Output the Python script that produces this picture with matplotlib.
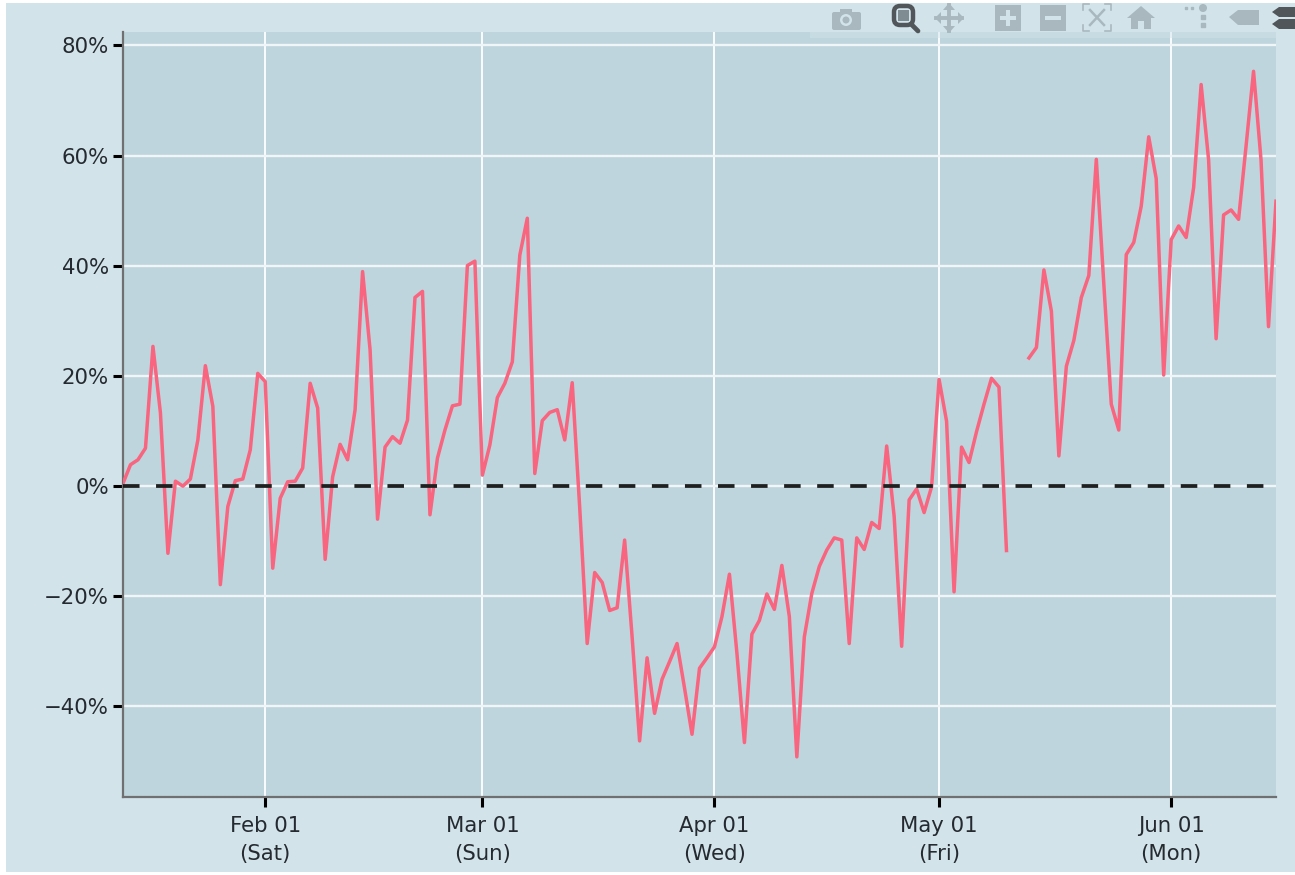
import matplotlib
matplotlib.use('Agg')
import matplotlib.pyplot as plt
import matplotlib.patches as patches
import numpy as np
import pandas as pd

# daily values in percent, starting Jan 13 2020, nan = gap in the data
values = [
    0.4, 3.8, 4.7, 6.8, 25.3, 13.2, -12.3, 0.8, -0.1, 1.2,
    8.3, 21.8, 14.4, -18.0, -3.8, 0.9, 1.2, 6.5, 20.4, 18.9,
    -15.0, -2.3, 0.7, 0.8, 3.2, 18.6, 14.1, -13.4, 1.6, 7.5,
    4.7, 13.8, 38.9, 24.7, -6.1, 7.0, 8.9, 7.7, 11.9, 34.2,
    35.3, -5.3, 5.0, 10.1, 14.5, 14.8, 40.0, 40.8, 1.9, 7.4,
    16.0, 18.6, 22.5, 41.9, 48.6, 2.2, 11.8, 13.3, 13.8, 8.3,
    18.7, -4.0, -28.7, -15.8, -17.6, -22.7, -22.2, -9.9, -27.5, -46.4,
    -31.3, -41.4, -35.2, -32.0, -28.7, -36.8, -45.2, -33.2, -31.3, -29.3,
    -23.8, -16.1, -30.5, -46.7, -27.0, -24.5, -19.7, -22.5, -14.5, -23.8,
    -49.3, -27.5, -19.6, -14.7, -11.7, -9.5, -9.9, -28.7, -9.5, -11.6,
    -6.7, -7.8, 7.2, -5.6, -29.2, -2.6, -0.6, -4.9, -0.2, 19.3,
    11.7, -19.3, 7.0, 4.2, 9.8, 14.8, 19.5, 17.9, -11.8, np.nan,
    np.nan, 23.2, 25.1, 39.2, 31.7, 5.4, 21.7, 26.4, 34.2, 38.2,
    59.3, 36.7, 14.8, 10.1, 42.0, 44.2, 50.8, 63.4, 55.8, 20.1,
    44.7, 47.2, 45.1, 54.2, 72.9, 59.2, 26.7, 49.2, 50.1, 48.4,
    61.7, 75.3, 59.2, 28.9, 51.7,
]
start_date = '2020-01-13'

x_tick_dates = ['2020-02-01', '2020-03-01', '2020-04-01', '2020-05-01', '2020-06-01']
x_tick_labels = ['Feb 01\n(Sat)', 'Mar 01\n(Sun)', 'Apr 01\n(Wed)', 'May 01\n(Fri)', 'Jun 01\n(Mon)']
y_ticks = [-40, -20, 0, 20, 40, 60, 80]
y_tick_labels = ['\u221240%', '\u221220%', '0%', '20%', '40%', '60%', '80%']

W, H = 1295, 875
page_bg = '#d2e3ea'
plot_bg = '#bed5dd'
line_color = '#f9647f'
text_color = '#252a30'
icon_grey = '#a8b8be'
icon_dark = '#50565a'

plt.rcParams['lines.scale_dashes'] = False
plt.rcParams['font.family'] = 'DejaVu Sans'

fig = plt.figure(figsize=(W / 100, H / 100), dpi=100, facecolor='white')

# page background sits inside a thin white margin
fig.patches.append(patches.Rectangle((6 / W, 0.004), 1, 0.993, transform=fig.transFigure,
                                     facecolor=page_bg, edgecolor='none', zorder=-5))

ax = fig.add_axes([123 / W, 1 - 797 / H, (1276 - 123) / W, (797 - 32) / H])
ax.set_facecolor(plot_bg)

dates = pd.date_range(start_date, periods=len(values), freq='D')
ax.plot(dates, values, color=line_color, lw=2.5, zorder=3)
ax.axhline(0, color='#1f1f1f', lw=2.7, dashes=(11.9, 11.9), dash_capstyle='butt', zorder=4)

ax.set_xlim(pd.Timestamp('2020-01-13'), pd.Timestamp('2020-06-15'))
ax.set_ylim(-56.6, 82.45)

ax.set_xticks(pd.to_datetime(x_tick_dates))
ax.set_xticklabels(x_tick_labels, fontsize=15.3, color=text_color, linespacing=1.5)
ax.set_yticks(y_ticks)
ax.set_yticklabels(y_tick_labels, fontsize=15.3, color=text_color)
ax.tick_params(axis='x', length=7, width=2.2, color='black', pad=7)
ax.tick_params(axis='y', length=7, width=2.2, color='black', pad=3)
ax.grid(True, axis='x', color='white', lw=1.3, zorder=1)
ax.grid(True, axis='y', color='#f0f6f8', lw=1.7, zorder=1)
ax.set_axisbelow(True)

ax.spines['top'].set_visible(False)
ax.spines['right'].set_visible(False)
ax.spines['left'].set_color('#707070')
ax.spines['bottom'].set_color('#707070')
ax.spines['left'].set_linewidth(1.6)
ax.spines['bottom'].set_linewidth(1.6)

# toolbar overlay, in pixel coordinates of the picture
bar = fig.add_axes([0, 0, 1, 1])
bar.set_xlim(0, W)
bar.set_ylim(H, 0)
bar.axis('off')
bar.patch.set_alpha(0)

bar.add_patch(patches.Rectangle((810, 30), 466, 8, fc=page_bg, ec='none', alpha=0.45))


def box(x0, y0, x1, y1, color=icon_grey):
    bar.add_patch(patches.Rectangle((x0, y0), x1 - x0, y1 - y0, fc=color, ec='none'))


# camera
bar.add_patch(patches.FancyBboxPatch((832, 12), 29, 18, boxstyle='round,pad=0,rounding_size=2',
                                     fc=icon_grey, ec='none'))
box(840, 9, 852, 13)
bar.add_patch(patches.Circle((846, 20), 6, fc=page_bg, ec='none'))
bar.add_patch(patches.Circle((846, 20), 3.5, fc=icon_grey, ec='none'))

# zoom glass
bar.add_patch(patches.FancyBboxPatch((894, 6), 19, 19, boxstyle='round,pad=0,rounding_size=6',
                                     fc='none', ec=icon_dark, lw=3.2))
box(898, 10, 909, 21, '#7f8c92')
bar.plot([911, 918], [24, 31], color=icon_dark, lw=3.4, solid_capstyle='round')

# pan arrows
bar.plot([936, 962], [18, 18], color=icon_grey, lw=2.8)
bar.plot([949, 949], [5, 31], color=icon_grey, lw=2.8)
bar.add_patch(patches.Polygon([(935, 18), (941, 12), (941, 24)], fc=icon_grey, ec='none'))
bar.add_patch(patches.Polygon([(964, 18), (958, 12), (958, 24)], fc=icon_grey, ec='none'))
bar.add_patch(patches.Polygon([(949, 3), (943, 10), (955, 10)], fc=icon_grey, ec='none'))
bar.add_patch(patches.Polygon([(949, 33), (943, 26), (955, 26)], fc=icon_grey, ec='none'))

# zoom in / zoom out
box(995, 5, 1021, 31)
box(1006, 10, 1010, 26, page_bg)
box(1000, 16, 1016, 20, page_bg)
box(1040, 5, 1066, 31)
box(1045, 16, 1061, 20, page_bg)

# autoscale
for cx, cy, dx, dy in [(1083, 4, 1, 1), (1111, 4, -1, 1), (1083, 31, 1, -1), (1111, 31, -1, -1)]:
    bar.plot([cx + 6 * dx, cx, cx], [cy, cy, cy + 6 * dy], color=icon_grey, lw=1.2)
bar.plot([1090, 1104], [10, 25], color=icon_grey, lw=1.8)
bar.plot([1104, 1090], [10, 25], color=icon_grey, lw=1.8)

# home
bar.add_patch(patches.Polygon([(1127, 18), (1141, 6), (1155, 18), (1151, 18), (1151, 29), (1144, 29),
                               (1144, 21), (1138, 21), (1138, 29), (1131, 29), (1131, 18)],
                              fc=icon_grey, ec='none'))

# spikelines
bar.plot([1186, 1192], [8, 8], ls='none', marker='s', ms=2, color=icon_grey)
bar.add_patch(patches.Circle((1203, 8), 4, fc=icon_grey, ec='none'))
bar.plot([1203, 1203], [17, 25], ls='none', marker='s', ms=2.8, color=icon_grey)

# hover closest / compare tags
bar.add_patch(patches.Polygon([(1229, 17), (1238, 10), (1259, 10), (1259, 25), (1238, 25)],
                              fc=icon_grey, ec='none'))
bar.add_patch(patches.Polygon([(1272, 12), (1279, 7), (1295, 7), (1295, 17), (1279, 17)],
                              fc=icon_dark, ec='none'))
bar.add_patch(patches.Polygon([(1272, 24), (1279, 19), (1295, 19), (1295, 29), (1279, 29)],
                              fc=icon_dark, ec='none'))

plt.savefig('out.png', dpi=100, facecolor=fig.get_facecolor())
plt.close()
